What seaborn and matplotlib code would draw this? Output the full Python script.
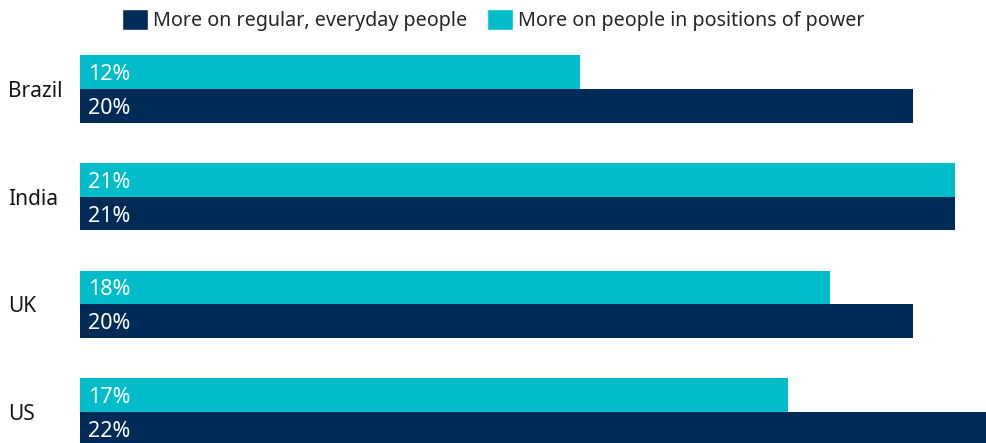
import matplotlib
matplotlib.use("Agg")
import matplotlib.pyplot as plt
import matplotlib.transforms as mtransforms
from matplotlib.patches import Patch
import seaborn as sns
import pandas as pd

countries = ["Brazil", "India", "UK", "US"]
power = [12, 21, 18, 17]
everyday = [20, 21, 20, 22]
series_power = "More on people in positions of power"
series_everyday = "More on regular, everyday people"
color_power = "#00BDC9"
color_everyday = "#002B57"

df = pd.DataFrame({
    "country": countries * 2,
    "value": power + everyday,
    "series": [series_power] * 4 + [series_everyday] * 4,
})

sns.set_theme(style="white")
plt.rcParams["font.family"] = ["Noto Sans", "DejaVu Sans"]

W, H = 987, 443
fig = plt.figure(figsize=(W / 100, H / 100), dpi=100)
ax = fig.add_axes([80 / W, 0, 1 - 80 / W, 1])

sns.barplot(data=df, y="country", x="value", hue="series", order=countries,
            hue_order=[series_power, series_everyday],
            palette=[color_power, color_everyday], orient="h",
            width=0.626, ax=ax, legend=False, saturation=1, linewidth=0)

ax.set_xlim(0, 907 / 41.65)
ax.set_ylim(3 + 31 / 107.67, -89 / 107.67)
ax.axis("off")

for cont in ax.containers:
    for bar in cont:
        w = bar.get_width()
        yc = bar.get_y() + bar.get_height() / 2
        ax.text(0.19, yc, f"{w:.0f}%", color="white", fontsize=15.5,
                va="center_baseline", ha="left")

trans = mtransforms.blended_transform_factory(fig.transFigure, ax.transData)
for i, c in enumerate(countries):
    ax.text(8 / W, i, c, transform=trans, fontsize=15, color="#161616",
            va="center_baseline", ha="left")

handles = [Patch(facecolor=color_everyday, label=series_everyday),
           Patch(facecolor=color_power, label=series_power)]
fig.legend(handles=handles, loc="center", bbox_to_anchor=(0.5, 1 - 20 / H),
           ncol=2, frameon=False, fontsize=14.2, handlelength=1.3,
           handleheight=1.3, handletextpad=0.27, columnspacing=1.0,
           borderaxespad=0, borderpad=0)

fig.savefig("out.png", dpi=100)
